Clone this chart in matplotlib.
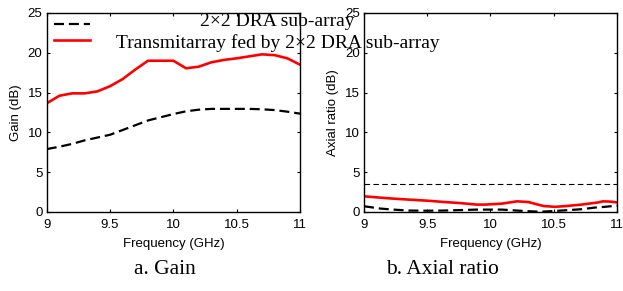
import matplotlib
matplotlib.use("Agg")
import matplotlib.pyplot as plt
from matplotlib.lines import Line2D

freq = [9.0, 9.1, 9.2, 9.3, 9.4, 9.5, 9.6, 9.7, 9.8, 9.9, 10.0,
        10.1, 10.2, 10.3, 10.4, 10.5, 10.6, 10.7, 10.8, 10.9, 11.0]
gain_ta = [13.65, 14.6, 14.9, 14.9, 15.15, 15.8, 16.7, 17.9, 19.0, 19.0, 19.0,
           18.05, 18.25, 18.8, 19.1, 19.3, 19.55, 19.8, 19.7, 19.3, 18.5]
gain_sub = [7.9, 8.2, 8.55, 9.0, 9.35, 9.7, 10.3, 10.9, 11.5, 11.9, 12.3,
            12.65, 12.85, 12.95, 12.95, 12.95, 12.95, 12.9, 12.8, 12.6, 12.35]

ar_freq = [9.0, 9.13, 9.23, 9.36, 9.5, 9.63, 9.76, 9.89, 9.96, 10.09, 10.21,
           10.3, 10.37, 10.42, 10.51, 10.6, 10.72, 10.85, 10.89, 10.95, 11.0]
ar_ta = [1.97, 1.8, 1.68, 1.55, 1.42, 1.26, 1.12, 0.93, 0.93, 1.05, 1.34,
         1.25, 0.95, 0.75, 0.65, 0.75, 0.93, 1.2, 1.34, 1.3, 1.2]
ar_sub = [0.72, 0.43, 0.3, 0.18, 0.16, 0.18, 0.24, 0.3, 0.3, 0.3, 0.18,
          0.1, 0.05, 0.06, 0.13, 0.22, 0.35, 0.6, 0.63, 0.72, 0.8]
ar_ref = 3.5

xticks = [9, 9.5, 10, 10.5, 11]
xticklabels = ['9', '9.5', '10', '10.5', '11']
yticks = [0, 5, 10, 15, 20, 25]

plt.rcParams['font.family'] = ['Liberation Sans', 'DejaVu Sans']

fig = plt.figure(figsize=(6.23, 2.91), dpi=100)
ax1 = fig.add_axes([0.075, 0.2715, 0.4066, 0.684])
ax2 = fig.add_axes([0.5843, 0.2715, 0.406, 0.684])

ax1.plot(freq, gain_sub, color='black', lw=1.6, ls=(0, (4.5, 2.2)))
ax1.plot(freq, gain_ta, color='#ff0000', lw=1.9)
ax1.set_ylabel('Gain (dB)', fontsize=9.5, labelpad=4)

ax2.plot(ar_freq, [ar_ref] * len(ar_freq), color='black', lw=0.8, ls=(0, (5, 3)))
ax2.plot(ar_freq, ar_sub, color='black', lw=1.6, ls=(0, (4.5, 2.2)))
ax2.plot(ar_freq, ar_ta, color='#ff0000', lw=1.9)
ax2.set_ylabel('Axial ratio (dB)', fontsize=9.5, labelpad=4)

for ax in (ax1, ax2):
    ax.set_xlim(9, 11)
    ax.set_ylim(0, 25)
    ax.set_xticks(xticks)
    ax.set_xticklabels(xticklabels)
    ax.set_yticks(yticks)
    ax.tick_params(direction='in', top=True, right=True, length=2.5,
                   width=0.8, labelsize=9.5, pad=3)
    ax.tick_params(axis='x', pad=5)
    for s in ax.spines.values():
        s.set_linewidth(1.0)
    ax.set_xlabel('Frequency (GHz)', fontsize=9.5, labelpad=5)

# legend (manual, MATLAB style overflow)
ax1.add_line(Line2D([0.03, 0.17], [0.945, 0.945], transform=ax1.transAxes,
                    color='black', lw=1.6, ls=(0, (4.5, 2.2)), clip_on=False))
ax1.add_line(Line2D([0.03, 0.17], [0.865, 0.865], transform=ax1.transAxes,
                    color='#ff0000', lw=1.9, clip_on=False))
fig.text(277.5 / 623, 1 - 21 / 291, '2\u00d72 DRA sub-array', ha='center', va='center',
         family='Liberation Serif', fontsize=14, zorder=10)
fig.text(277.5 / 623, 1 - 43 / 291, 'Transmitarray fed by 2\u00d72 DRA sub-array',
         ha='center', va='center', family='Liberation Serif', fontsize=14, zorder=10)

fig.text(164.5 / 623, 1 - 269 / 291, 'a. Gain', ha='center', va='center',
         family='Liberation Serif', fontsize=15.5)
fig.text(443 / 623, 1 - 269 / 291, 'b. Axial ratio', ha='center', va='center',
         family='Liberation Serif', fontsize=15.5)

fig.savefig('out.png', dpi=100)
